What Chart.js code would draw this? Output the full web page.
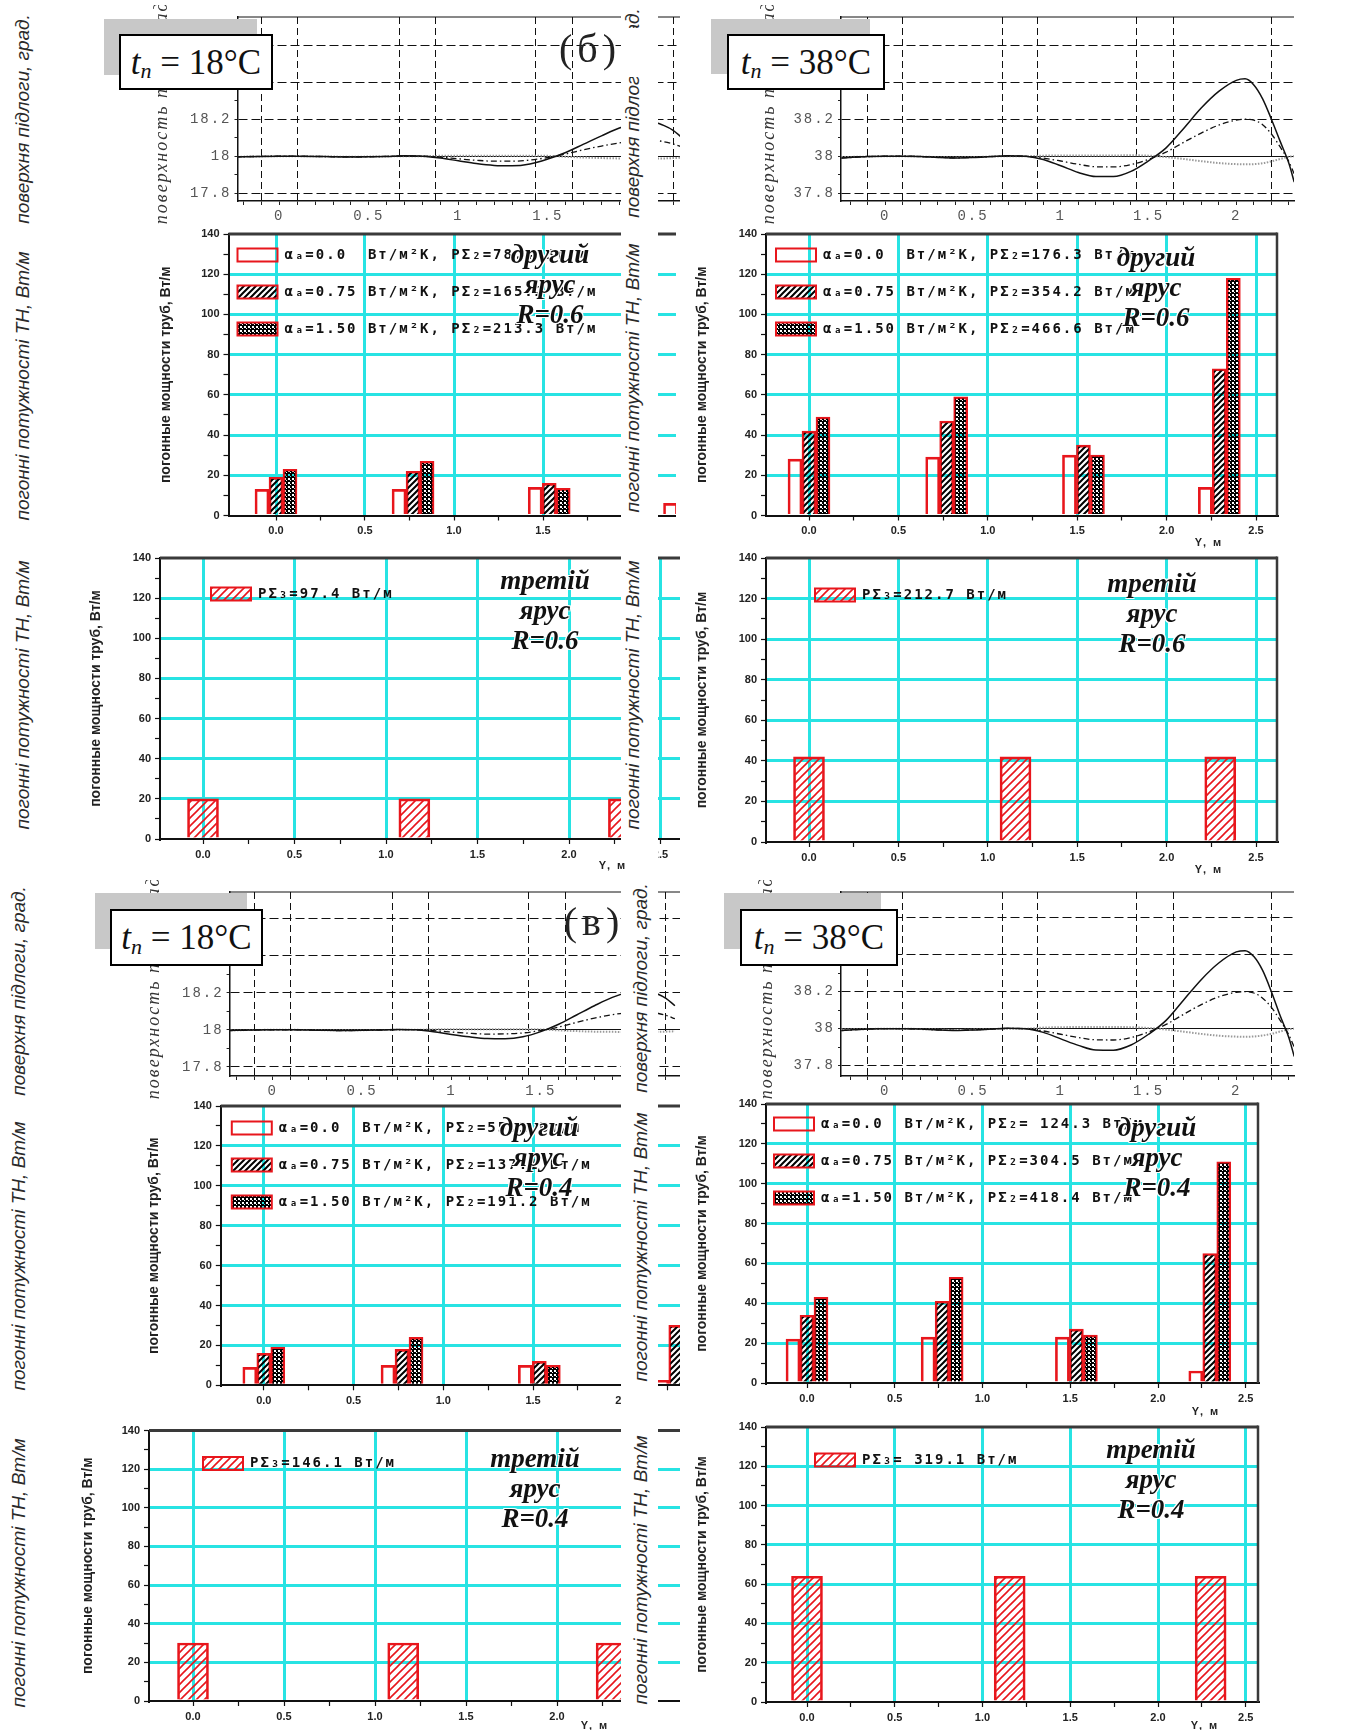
<!DOCTYPE html>
<html lang="uk"><head><meta charset="utf-8"><title>Температура поверхні підлоги та погонні потужності ТН</title>
<script src="https://cdn.jsdelivr.net/npm/chart.js"></script>
<style>
html,body{margin:0;padding:0;background:#fff;}
#page{position:relative;width:1351px;height:1730px;overflow:hidden;background:#fff;}
#page canvas{position:absolute;}
.rot{position:absolute;white-space:nowrap;transform:translate(-50%,-50%) rotate(-90deg);font-family:'Liberation Sans',Arial,sans-serif;font-style:italic;font-size:19px;color:#2a2a2a;line-height:1;}
.blank{position:absolute;background:#fff;}
.gray{position:absolute;background:#c8c8c8;}
.tbox{position:absolute;box-sizing:border-box;border:2px solid #000;background:#fff;font-family:'Liberation Serif',serif;font-size:35px;color:#111;display:flex;align-items:center;justify-content:center;line-height:1;white-space:nowrap;}
.tbox sub{font-size:22px;position:relative;top:9px;vertical-align:baseline;font-style:italic;}
.panel{position:absolute;font-family:'Liberation Serif',serif;font-size:40px;color:#222;transform:translate(-50%,-50%);white-space:nowrap;letter-spacing:5px;}
.ann{position:absolute;transform:translateX(-50%);font-family:'Liberation Serif',serif;font-weight:bold;font-style:italic;font-size:27px;line-height:30px;text-align:center;color:#111;white-space:nowrap;text-shadow:1px 1px 0 #fff,-1px -1px 0 #fff,1px -1px 0 #fff,-1px 1px 0 #fff;}
.yt{position:absolute;transform:translate(-50%,-50%);font-family:'Liberation Sans',Arial,sans-serif;font-weight:bold;font-size:11px;letter-spacing:2px;color:#222;white-space:nowrap;}
</style></head>
<body><div id="page"></div>
<script>
// ================= DATA =================
// temperature profiles along Y (m)
const tempX = [-0.25,-0.1,0,0.1,0.2,0.3,0.4,0.5,0.6,0.7,0.8,0.9,1.0,1.1,1.2,1.3,1.4,1.5,1.6,1.7,1.8,1.9,2.0,2.05,2.1,2.15,2.2,2.25,2.3,2.33];
// (б) tn = 18°C
const b18Solid   = [17.996,17.999,18,18,17.999,17.997,17.996,17.997,17.999,18.002,18,17.99,17.975,17.96,17.95,17.948,17.958,17.985,18.02,18.065,18.11,18.152,18.178,18.185,18.182,18.165,18.14,18.1,null,null];
const b18DashDot = [17.996,17.999,18,18,17.999,17.997,17.996,17.997,17.999,18.001,18,17.995,17.986,17.978,17.973,17.973,17.979,17.993,18.012,18.035,18.055,18.072,18.083,18.086,18.085,18.078,18.066,18.05,null,null];
const b18Dotted  = [17.997,17.999,18,18,17.999,17.998,17.997,17.998,17.999,18,18,18.002,18.003,18.003,18.003,18.003,18.003,18.002,17.997,17.993,17.99,17.988,17.987,17.987,17.987,17.988,17.99,17.992,null,null];
// (б) tn = 38°C
const b38Solid   = [37.99,37.998,38,38,37.998,37.993,37.99,37.993,37.998,38.003,38,37.982,37.948,37.912,37.89,37.89,37.918,37.975,38.045,38.15,38.26,38.35,38.41,38.418,38.385,38.31,38.2,38.08,37.96,37.86];
const b38DashDot = [37.99,37.998,38,38,37.998,37.994,37.991,37.994,37.998,38.002,38,37.99,37.974,37.956,37.943,37.942,37.955,37.983,38.022,38.075,38.125,38.168,38.195,38.2,38.195,38.17,38.12,38.05,37.97,37.905];
const b38Dotted  = [37.995,37.998,38,38,37.998,37.995,37.993,37.995,37.998,38,38,38.003,38.004,38.004,38.004,38.004,38.005,38.003,37.995,37.985,37.973,37.963,37.957,37.956,37.957,37.962,37.972,37.985,37.997,38];
// (в) tn = 18°C
const v18Solid   = [17.996,17.999,18,18,17.999,17.997,17.996,17.997,17.999,18.002,18,17.99,17.975,17.962,17.953,17.952,17.962,17.99,18.03,18.08,18.13,18.175,18.205,18.212,18.21,18.195,18.17,18.13,null,null];
const v18DashDot = [17.996,17.999,18,18,17.999,17.997,17.996,17.997,17.999,18.001,18,17.995,17.988,17.981,17.977,17.978,17.983,17.996,18.015,18.04,18.063,18.082,18.095,18.098,18.097,18.09,18.078,18.06,null,null];
const v18Dotted  = [17.997,17.999,18,18,17.999,17.998,17.997,17.998,17.999,18,18,18.002,18.003,18.003,18.003,18.003,18.003,18.002,17.997,17.993,17.99,17.989,17.988,17.988,17.988,17.989,17.99,17.992,null,null];
// (в) tn = 38°C
const v38Solid   = [37.99,37.998,38,38,37.998,37.993,37.99,37.993,37.998,38.003,38,37.98,37.945,37.91,37.885,37.884,37.912,37.97,38.045,38.155,38.265,38.355,38.415,38.422,38.39,38.315,38.2,38.07,37.95,37.85];
const v38DashDot = [37.99,37.998,38,38,37.998,37.994,37.991,37.994,37.998,38.002,38,37.988,37.97,37.952,37.94,37.939,37.952,37.982,38.023,38.078,38.13,38.172,38.197,38.2,38.193,38.165,38.115,38.045,37.965,37.9];
const v38Dotted  = [37.995,37.998,38,38,37.998,37.995,37.993,37.995,37.998,38,38,38.006,38.008,38.009,38.009,38.009,38.008,38.004,37.995,37.984,37.972,37.962,37.957,37.956,37.958,37.963,37.972,37.985,37.997,38];

// temperature axes ticks
const tempXMinor  = [-0.2,-0.1,0,0.1,0.2,0.3,0.4,0.5,0.6,0.7,0.8,0.9,1,1.1,1.2,1.3,1.4,1.5,1.6,1.7,1.8,1.9,2,2.1,2.2,2.3];
const tempXLabels = [0,0.5,1,1.5,2];
const tempGridX   = [-0.1,0.1,0.67,0.87,1.43,1.64,2.2];
const temp18Labels = [17.8,18,18.2,18.4,18.6];
const temp38Labels = [37.8,38,38.2,38.4,38.6];
const tempYStepOffsets = [-0.2,-0.15,-0.1,-0.05,0,0.05,0.1,0.15,0.2,0.25,0.3,0.35,0.4,0.45,0.5,0.55,0.6,0.65,0.7];

// second tier (другий ярус) bars: positions along Y (m)
const tier2X = [0, 0.77, 1.535, 2.295];
const b18T2a000 = [13, 13, 14, 6];
const b18T2a075 = [19, 22, 16, 34];
const b18T2a150 = [23, 27, 13.5, 55];
const b38T2a000 = [28, 29, 30, 14];
const b38T2a075 = [42, 47, 35, 73];
const b38T2a150 = [49, 59, 30, 118];
const v18T2a000 = [9, 10, 10, 2.5];
const v18T2a075 = [16, 18, 12, 30];
const v18T2a150 = [19, 24, 10, 50];
const v38T2a000 = [22, 23, 23, 6];
const v38T2a075 = [34, 41, 27, 65];
const v38T2a150 = [43, 53, 24, 111];
// third tier (третій ярус) bars
const tier3X = [0, 1.155, 2.3];
const b18T3 = [20, 20, 20];
const b38T3 = [42, 42, 42];
const v18T3 = [30, 30, 30];
const v38T3 = [64, 64, 64];

// bar axes ticks
const barXTicks  = [0,0.25,0.5,0.75,1,1.25,1.5,1.75,2,2.25,2.5];
const barXLabels = [0,0.5,1,1.5,2,2.5];
const barYTicks  = [0,10,20,30,40,50,60,70,80,90,100,110,120,130,140];
const barYLabels = [0,20,40,60,80,100,120,140];
const barYGrid   = [20,40,60,80,100,120];

// legend texts
const b18T2Legend = ['αₐ=0.0  Вт/м²К, PΣ₂=78.4 Вт/м', 'αₐ=0.75 Вт/м²К, PΣ₂=165.2 Вт/м', 'αₐ=1.50 Вт/м²К, PΣ₂=213.3 Вт/м'];
const b38T2Legend = ['αₐ=0.0  Вт/м²К, PΣ₂=176.3 Вт/м', 'αₐ=0.75 Вт/м²К, PΣ₂=354.2 Вт/м', 'αₐ=1.50 Вт/м²К, PΣ₂=466.6 Вт/м'];
const v18T2Legend = ['αₐ=0.0  Вт/м²К, PΣ₂=55.1 Вт/м', 'αₐ=0.75 Вт/м²К, PΣ₂=137.1 Вт/м', 'αₐ=1.50 Вт/м²К, PΣ₂=191.2 Вт/м'];
const v38T2Legend = ['αₐ=0.0  Вт/м²К, PΣ₂= 124.3 Вт/м', 'αₐ=0.75 Вт/м²К, PΣ₂=304.5 Вт/м', 'αₐ=1.50 Вт/м²К, PΣ₂=418.4 Вт/м'];
const b18T3Legend = ['PΣ₃=97.4 Вт/м'];
const b38T3Legend = ['PΣ₃=212.7 Вт/м'];
const v18T3Legend = ['PΣ₃=146.1 Вт/м'];
const v38T3Legend = ['PΣ₃= 319.1 Вт/м'];
const tempSeriesNames = ['αₐ=1.50', 'αₐ=0.75', 'αₐ=0.0'];

// ================= RENDER =================
const page = document.getElementById('page');
const CYAN = '#27e3e3', RED = '#e8161c', CLEAR = 'rgba(0,0,0,0)';
const near = (a, b) => Math.abs(a - b) < 1e-6;
const inList = (v, list) => list.some(t => near(t, v));

function makeCanvas(g) {
  const c = document.createElement('canvas');
  c.width = g.w; c.height = g.h;
  Object.assign(c.style, {left: g.l + 'px', top: g.t + 'px', width: g.w + 'px', height: g.h + 'px'});
  page.appendChild(c);
  return c;
}
function framePlugin(color, topW, rightW) {
  return {id: 'frame', afterDraw(chart) {
    const {ctx, chartArea: a} = chart;
    ctx.save(); ctx.setLineDash([]); ctx.strokeStyle = color;
    ctx.lineWidth = topW; ctx.beginPath(); ctx.moveTo(a.left, a.top); ctx.lineTo(a.right, a.top); ctx.stroke();
    if (rightW) { ctx.lineWidth = rightW; ctx.beginPath(); ctx.moveTo(a.right, a.top - topW / 2); ctx.lineTo(a.right, a.bottom); ctx.stroke(); }
    ctx.restore();
  }};
}
function spacingPlugin(sp) {
  return {id: 'spacing', beforeDraw(chart) { chart.ctx.letterSpacing = sp; }, afterDraw(chart) { chart.ctx.letterSpacing = '0px'; }};
}
function legendPlugin(ox, oy, sp) {
  return {id: 'legendPos', afterLayout(chart) {
    const lg = chart.legend, a = chart.chartArea;
    if (!lg) return;
    const pad = 8;
    lg.left = a.left + ox - pad; lg.top = a.top + oy - pad;
    lg.right = a.right; lg.bottom = a.bottom;
    if (!lg.__wrapped) {
      const orig = lg.draw;
      lg.draw = function (...args) { const c = chart.ctx; c.save(); c.letterSpacing = sp; orig.apply(this, args); c.restore(); };
      lg.__wrapped = true;
    }
  }};
}

// patterns
function pat(kind) {
  const c = document.createElement('canvas');
  const g = c.getContext('2d');
  if (kind === 'hatch') {
    c.width = 6; c.height = 6;
    g.strokeStyle = '#000'; g.lineWidth = 2;
    g.beginPath(); g.moveTo(-1, 7); g.lineTo(7, -1); g.moveTo(-4, 4); g.lineTo(4, -4); g.moveTo(2, 10); g.lineTo(10, 2); g.stroke();
  } else if (kind === 'dense') {
    c.width = 4; c.height = 4;
    g.fillStyle = '#000'; g.fillRect(0, 0, 4, 4);
    g.clearRect(0, 0, 2, 2); g.clearRect(2, 2, 1, 1);
  } else {
    c.width = 8; c.height = 8;
    g.strokeStyle = RED; g.lineWidth = 1.6;
    g.beginPath(); g.moveTo(-1, 9); g.lineTo(9, -1); g.moveTo(-5, 5); g.lineTo(5, -5); g.moveTo(3, 13); g.lineTo(13, 3); g.stroke();
  }
  return g.createPattern(c, 'repeat');
}
const PAT_HATCH = pat('hatch'), PAT_DENSE = pat('dense'), PAT_RED = pat('red');

function tempChart(g, base, labelsY, series) {
  const c = makeCanvas(g);
  const yAxisW = g.pl - g.l, xAxisH = g.t + g.h - g.pb;
  const xMin = (g.pl - g.x0) / g.ppx, xMax = (g.pr - g.x0) / g.ppx;
  const yMax = base + (g.yb - g.pt) / g.ppy, yMin = base - (g.pb - g.yb) / g.ppy;
  const yTicks = tempYStepOffsets.map(o => Math.round((base + o) * 1000) / 1000);
  const xTicks = [...new Set([...tempXMinor, ...tempGridX])].sort((a, b) => a - b);
  const styles = [
    {borderColor: '#111', borderWidth: 1.5, borderDash: []},
    {borderColor: '#111', borderWidth: 1.3, borderDash: [6, 3, 1.5, 3]},
    {borderColor: '#9a9a9a', borderWidth: 2, borderDash: [1.5, 1.5]}];
  return new Chart(c, {
    type: 'line',
    data: {datasets: series.map((arr, i) => Object.assign({
      label: tempSeriesNames[i], data: tempX.map((x, j) => ({x, y: arr[j]})),
      pointRadius: 0, fill: false, cubicInterpolationMode: 'monotone', spanGaps: false}, styles[i]))},
    options: {
      responsive: false, animation: false, events: [], devicePixelRatio: 1,
      layout: {padding: {left: 0, top: g.pt - g.t, right: g.l + g.w - g.pr, bottom: 0}},
      plugins: {legend: {display: false}, tooltip: {enabled: false}},
      scales: {
        x: {type: 'linear', min: xMin, max: xMax, bounds: 'data',
          afterBuildTicks: s => { s.ticks = xTicks.filter(v => v >= s.min - 1e-9 && v <= s.max + 1e-9).map(v => ({value: v})); },
          afterFit: s => { s.height = xAxisH; },
          ticks: {autoSkip: false, maxRotation: 0, minRotation: 0, padding: 3, color: '#555',
            font: {family: "'Liberation Mono', monospace", size: 14},
            callback: v => inList(v, tempXLabels) ? String(v) : ''},
          grid: {color: ctx => ctx.tick && inList(ctx.tick.value, tempGridX) ? '#111' : CLEAR, lineWidth: 1,
            tickLength: 4, tickWidth: 1, tickColor: ctx => ctx.tick && inList(ctx.tick.value, tempXMinor) ? '#222' : CLEAR},
          border: {display: true, color: '#111', width: 1.5, dash: ctx => ctx.type === 'tick' ? [7, 4] : []}},
        y: {type: 'linear', min: yMin, max: yMax, bounds: 'data',
          afterBuildTicks: s => { s.ticks = yTicks.filter(v => v >= s.min && v <= s.max).map(v => ({value: v})); },
          afterFit: s => { s.width = yAxisW; },
          title: {display: true, text: 'поверхность пола, град.', color: '#333',
            font: {family: "'Liberation Serif', serif", style: 'italic', size: 18},
            padding: {top: g.tc - g.l - 10.8, bottom: 0}},
          ticks: {padding: 3, color: '#555', font: {family: "'Liberation Mono', monospace", size: 14},
            callback: v => inList(v, labelsY) ? String(v) : ''},
          grid: {color: ctx => ctx.tick && inList(ctx.tick.value, labelsY) ? '#111' : CLEAR, lineWidth: 1,
            tickLength: 3, tickWidth: 1, tickColor: '#222'},
          border: {display: true, color: '#111', width: 1.5, dash: ctx => (ctx.type === 'tick' && !near(ctx.tick.value, base)) ? [9, 4] : []}}
      }
    },
    plugins: [framePlugin('#111', 1, 0), spacingPlugin('2px')]
  });
}

function barChart(g, xs, series, labels, fills, thick, legendOff, rightFrame) {
  const c = makeCanvas(g);
  const yAxisW = g.pl - g.l, xAxisH = g.t + g.h - g.pb;
  const xMin = (g.pl - g.x0) / g.ppx, xMax = (g.pr - g.x0) / g.ppx;
  return new Chart(c, {
    type: 'bar',
    data: {datasets: series.map((arr, i) => ({
      label: labels[i], data: xs.map((x, j) => ({x, y: arr[j]})),
      backgroundColor: fills[i], borderColor: RED, borderWidth: 2, barThickness: thick}))},
    options: {
      responsive: false, animation: false, events: [], devicePixelRatio: 1,
      layout: {padding: {left: 0, top: g.pt - g.t, right: g.l + g.w - g.pr, bottom: 0}},
      plugins: {
        tooltip: {enabled: false},
        legend: {display: true, position: 'chartArea', align: 'start',
          labels: {boxWidth: 40, boxHeight: 13, padding: 8, color: '#111',
            font: {family: "'DejaVu Sans Mono', monospace", weight: 'bold', size: 14, lineHeight: '14.5px'},
            generateLabels: chart => Chart.defaults.plugins.legend.labels.generateLabels(chart).map(it => Object.assign(it, {text: [it.text, '']}))}}
      },
      scales: {
        x: {type: 'linear', min: xMin, max: xMax, bounds: 'data', offset: false,
          afterBuildTicks: s => { s.ticks = barXTicks.filter(v => v >= s.min - 1e-9 && v <= s.max + 1e-9).map(v => ({value: v})); },
          afterFit: s => { s.height = xAxisH; },
          ticks: {autoSkip: false, maxRotation: 0, minRotation: 0, padding: 4, color: '#222',
            font: {family: "'Liberation Sans', Arial, sans-serif", weight: 'bold', size: 11},
            callback: v => inList(v, barXLabels) ? v.toFixed(1) : ''},
          grid: {offset: false, color: ctx => ctx.tick && inList(ctx.tick.value, barXLabels) ? CYAN : CLEAR, lineWidth: 3,
            tickLength: 5, tickWidth: 1.2, tickColor: '#111'},
          border: {display: true, color: '#111', width: 2}},
        y: {type: 'linear', min: 0, max: 140, bounds: 'data',
          afterBuildTicks: s => { s.ticks = barYTicks.map(v => ({value: v})); },
          afterFit: s => { s.width = yAxisW; },
          title: {display: true, text: 'погонные мощности труб, Вт/м', color: '#222',
            font: {family: "'Liberation Sans', Arial, sans-serif", weight: 'bold', size: 14},
            padding: {top: g.tc - g.l - 8.4, bottom: 0}},
          ticks: {padding: 4, color: '#222', font: {family: "'Liberation Sans', Arial, sans-serif", weight: 'bold', size: 11},
            callback: v => inList(v, barYLabels) ? String(v) : ''},
          grid: {color: ctx => ctx.tick && inList(ctx.tick.value, barYGrid) ? CYAN : CLEAR, lineWidth: 3,
            tickLength: 5, tickWidth: 1.2, tickColor: '#111'},
          border: {display: true, color: '#111', width: 2}}
      }
    },
    plugins: [framePlugin('#3a3a3a', 3, rightFrame ? 2.5 : 0), legendPlugin(legendOff[0], legendOff[1], '2px')]
  });
}

const T2FILLS = [CLEAR, PAT_HATCH, PAT_DENSE];
const T3FILLS = [PAT_RED];

// ---- left column (drawn first, right column overlaps) ----
tempChart({l: 130, t: 5, w: 550, h: 232, pl: 237.5, pt: 17, pr: 680, pb: 201, x0: 279.3, ppx: 179, yb: 156.2, ppy: 185, tc: 162},
  18, temp18Labels, [b18Solid, b18DashDot, b18Dotted]);
barChart({l: 140, t: 222, w: 536, h: 320, pl: 228.5, pt: 234, pr: 676, pb: 515.5, x0: 276, ppx: 178, tc: 166},
  tier2X, [b18T2a000, b18T2a075, b18T2a150], b18T2Legend, T2FILLS, 14, [9, 14], false);
barChart({l: 70, t: 546, w: 610, h: 320, pl: 160, pt: 558, pr: 680, pb: 839, x0: 203, ppx: 183, tc: 96},
  tier3X, [b18T3], b18T3Legend, T3FILLS, 31, [51, 29], false);
tempChart({l: 125, t: 880, w: 555, h: 232, pl: 229.6, pt: 892, pr: 680, pb: 1076, x0: 272.6, ppx: 178.8, yb: 1029.8, ppy: 185, tc: 154.5},
  18, temp18Labels, [v18Solid, v18DashDot, v18Dotted]);
barChart({l: 130, t: 1094, w: 550, h: 318, pl: 220.8, pt: 1106, pr: 680, pb: 1385.3, x0: 263.8, ppx: 179.5, tc: 154.5},
  tier2X, [v18T2a000, v18T2a075, v18T2a150], v18T2Legend, T2FILLS, 14, [11, 15], false);
barChart({l: 62, t: 1418, w: 618, h: 312, pl: 149, pt: 1430.5, pr: 680, pb: 1701, x0: 193, ppx: 182, tc: 88},
  tier3X, [v18T3], v18T3Legend, T3FILLS, 31, [54, 26], false);

// ---- html helpers ----
function div(cls, html, st) { const d = document.createElement('div'); d.className = cls; d.innerHTML = html; Object.assign(d.style, st); page.appendChild(d); return d; }
function rot(text, cx, cy) { return div('rot', text, {left: cx + 'px', top: cy + 'px'}); }

// white strip between the columns with its axis labels
div('blank', '', {left: '621px', top: '0px', width: '37px', height: '1730px'});
rot('поверхня підлоги, град.', 632, 113);
div('blank', '', {left: '621px', top: '28px', width: '26px', height: '49px'});
rot('погонні потужності ТН, Вт/м', 632, 378);
rot('погонні потужності ТН, Вт/м', 632, 695);
rot('поверхня підлоги, град.', 640, 988);
rot('погонні потужності ТН, Вт/м', 640, 1247);
rot('погонні потужності ТН, Вт/м', 640, 1570);

// ---- right column ----
tempChart({l: 680, t: 5, w: 640, h: 232, pl: 841, pt: 17, pr: 1294, pb: 201, x0: 885.3, ppx: 175.5, yb: 156.2, ppy: 185, tc: 769},
  38, temp38Labels, [b38Solid, b38DashDot, b38Dotted]);
barChart({l: 680, t: 222, w: 620, h: 320, pl: 766, pt: 234, pr: 1277, pb: 515.5, x0: 809, ppx: 178.8, tc: 702},
  tier2X, [b38T2a000, b38T2a075, b38T2a150], b38T2Legend, T2FILLS, 14, [10, 14], true);
barChart({l: 680, t: 546, w: 620, h: 322, pl: 766, pt: 558, pr: 1277, pb: 842, x0: 809, ppx: 178.8, tc: 702},
  tier3X, [b38T3], b38T3Legend, T3FILLS, 31, [49, 30], true);
tempChart({l: 680, t: 880, w: 640, h: 232, pl: 841, pt: 892, pr: 1294, pb: 1076, x0: 885.3, ppx: 175.5, yb: 1028.7, ppy: 185, tc: 767},
  38, temp38Labels, [v38Solid, v38DashDot, v38Dotted]);
barChart({l: 680, t: 1092, w: 600, h: 318, pl: 766, pt: 1104, pr: 1258, pb: 1383, x0: 807, ppx: 175.5, tc: 702},
  tier2X, [v38T2a000, v38T2a075, v38T2a150], v38T2Legend, T2FILLS, 14, [8, 13], true);
barChart({l: 680, t: 1415, w: 600, h: 315, pl: 766, pt: 1427, pr: 1258, pb: 1702, x0: 807, ppx: 175.5, tc: 702},
  tier3X, [v38T3], v38T3Legend, T3FILLS, 31, [49, 26], true);

// far-left labels
rot('поверхня підлоги, град.', 22, 119);
rot('погонні потужності ТН, Вт/м', 22, 386);
rot('погонні потужності ТН, Вт/м', 22, 695);
rot('поверхня підлоги, град.', 18, 991);
rot('погонні потужності ТН, Вт/м', 18, 1256);
rot('погонні потужності ТН, Вт/м', 18, 1573);

// tn boxes
function tbox(g, b, temp) {
  div('gray', '', {left: g[0] + 'px', top: g[1] + 'px', width: g[2] + 'px', height: g[3] + 'px'});
  div('tbox', '<i>t</i><sub>n</sub>&nbsp;=&nbsp;' + temp + '°C', {left: b[0] + 'px', top: b[1] + 'px', width: b[2] + 'px', height: b[3] + 'px'});
}
tbox([104, 19, 153, 56], [119, 34, 154, 56], 18);
tbox([711, 19, 159, 55], [727, 34, 158, 56], 38);
tbox([95, 893, 152, 56], [110, 909, 153, 57], 18);
tbox([724, 893, 157, 56], [740, 909, 158, 57], 38);
div('panel', '(б)', {left: '590px', top: '48px'});
div('panel', '(в)', {left: '594px', top: '921px'});

// tier annotations
function ann(lines, cx, cy) { div('ann', lines.join('<br>'), {left: cx + 'px', top: (cy - 15) + 'px'}); }
ann(['другий', 'ярус', 'R=0.6'], 550, 254);
ann(['другий', 'ярус', 'R=0.6'], 1156, 257);
ann(['третій', 'ярус', 'R=0.6'], 545, 580);
ann(['третій', 'ярус', 'R=0.6'], 1152, 583);
ann(['другий', 'ярус', 'R=0.4'], 539, 1127);
ann(['другий', 'ярус', 'R=0.4'], 1157, 1127);
ann(['третій', 'ярус', 'R=0.4'], 535, 1458);
ann(['третій', 'ярус', 'R=0.4'], 1151, 1449);

// x-axis titles
[[1209, 542], [613, 865], [1209, 869], [1206, 1411], [595, 1725], [1205, 1725]].forEach(p => div('yt', 'Y, м', {left: p[0] + 'px', top: p[1] + 'px'}));
</script></body></html>
